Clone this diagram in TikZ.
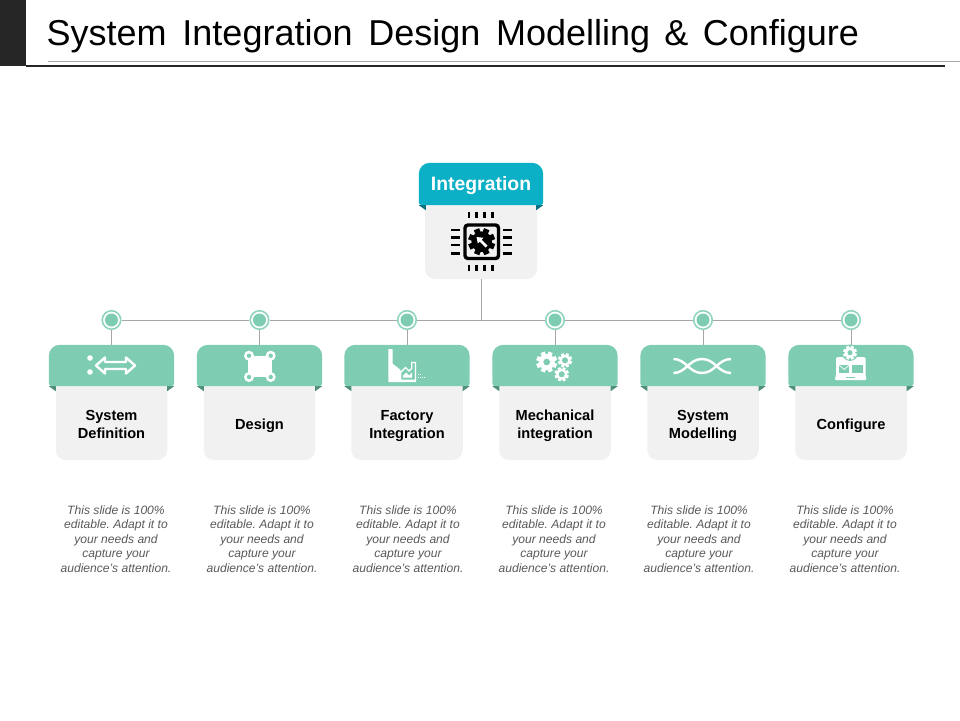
\documentclass[tikz,border=0pt]{standalone}
\usepackage{fontspec}
\setmainfont{Liberation Sans}
\frenchspacing
\definecolor{hdrgreen}{HTML}{7ECDB3}
\definecolor{foldgreen}{HTML}{4F8F7A}
\definecolor{hdrteal}{HTML}{0BB0C6}
\definecolor{foldteal}{HTML}{0A6F80}
\definecolor{bodygrey}{HTML}{F1F1F1}
\definecolor{linegrey}{HTML}{A6A6A6}
\definecolor{blockdark}{HTML}{262626}
\definecolor{descgrey}{HTML}{595959}
\tikzset{
  hdrbox/.style={minimum width=125pt, minimum height=41pt, inner sep=0pt},
  bodybox/.style={fill=bodygrey, rounded corners=10pt, minimum width=111.5pt, minimum height=84pt, inner sep=0pt},
  bodytext/.style={font=\fontsize{14.6}{18}\selectfont\bfseries, align=center, text=black, inner sep=0pt},
  desctext/.style={font=\fontsize{12.1}{14.6}\selectfont\itshape, align=center, text=descgrey, inner sep=0pt},
  dotouter/.style={circle, draw=hdrgreen!85, line width=1.6pt, fill=white, minimum size=18.5pt, inner sep=0pt},
  dotinner/.style={circle, fill=hdrgreen, minimum size=13pt, inner sep=0pt},
  wire/.style={draw=linegrey, line width=1pt}
}
% x, y, radius, colour, hole colour, hole size
\newcommand{\cogwheel}[6]{
  \foreach \tooth in {0,45,...,315}
    \draw[#4, line width=#3*.42pt] (#1,#2) ++(\tooth+22:#3*.6) -- ++(\tooth+22:#3*.4);
  \fill[#4] (#1,#2) circle (#3*.76);
  \fill[#5] (#1,#2) circle (#3*#6);
}
\newcommand{\foldpair}[2]{
  \fill[#2] (#1.south west) -- ++(7,0) -- ++(0,5) -- cycle;
  \fill[#2] (#1.south east) -- ++(-7,0) -- ++(0,5) -- cycle;
}
\newcommand{\hdrshape}[2]{
  \fill[#2] (#1.north) [rounded corners=11pt] -- (#1.north east) -- (#1.east) [rounded corners=3pt] -- (#1.south east) -- (#1.south west) -- (#1.west) [rounded corners=11pt] -- (#1.north west) -- cycle;
}
\begin{document}
\begin{tikzpicture}[x=1pt, y=-1pt]
  \useasboundingbox (0,0) rectangle (960,720);

  % Title bar
  \fill[blockdark] (0,0) rectangle (26,66);
  \fill[blockdark] (26,65) rectangle (945,67);
  \fill[linegrey] (48,60.8) rectangle (960,61.8);
  \node[anchor=base west, inner sep=0pt, font=\fontsize{36}{40}\selectfont] (title) at (46.5,45)
    {System\hspace{.16em} Integration\hspace{.16em} Design\hspace{.16em} Modelling\hspace{.12em} \&\hspace{.12em} Configure};

  % Top box
  \node[bodybox, minimum width=112pt] (intbody) at (481,237) {};
  \node[hdrbox, minimum width=124pt, minimum height=42pt] (inthdr) at (481,184) {};
  \foldpair{inthdr}{foldteal}
  \hdrshape{inthdr}{hdrteal}
  \node[text=white, font=\fontsize{19.4}{20}\selectfont\bfseries, inner sep=0pt] (inttext) at (481,185.5) {Integration};

  % Columns
  \foreach \i/\xc/\xd/\lbl in {
    1/111.5/116/{\strut System\\\strut Definition},
    2/259.5/262/{\strut Design},
    3/407/408/{\strut Factory\\\strut Integration},
    4/555/554/{\strut Mechanical\\\strut integration},
    5/703/699/{\strut System\\\strut Modelling},
    6/851/845/{\strut Configure}} {
    \node[dotouter] (dot\i) at (\xc,320) {};
    \node[dotinner] (core\i) at (\xc,320) {};
    \node[bodybox] (body\i) at (\xc,418) {};
    \node[hdrbox] (hdr\i) at (\xc,365.5) {};
    \foldpair{hdr\i}{foldgreen}
    \hdrshape{hdr\i}{hdrgreen}
    \node[bodytext] (name\i) at (\xc,426) {\lbl};
    \node[desctext] (desc\i) at (\xd,539) {This slide is 100\%\\editable. Adapt it to\\your needs and\\capture your\\audience's attention.};
    \draw[wire] (dot\i) -- (hdr\i.north);
  }

  % Wires
  \coordinate (joint) at (481,320);
  \draw[wire] (intbody.south) -- (joint);
  \foreach \i/\j in {1/2,2/3,3/4,4/5,5/6}
    \draw[wire] (dot\i) -- (dot\j);

  % Chip icon
  \draw[black, line width=3.4pt, rounded corners=3pt] (465,225) rectangle (498.5,258.5);
  \foreach \p in {469,476.7,484.3,492.7} {
    \draw[black, line width=2.8pt] (\p,211.7) -- (\p,218.3);
    \draw[black, line width=2.8pt] (\p,264.5) -- (\p,271);
  }
  \foreach \p in {230,237.7,245,253.3} {
    \draw[black, line width=2.8pt] (451,\p) -- (460,\p);
    \draw[black, line width=2.8pt] (503,\p) -- (512,\p);
  }
  \cogwheel{481.7}{241.7}{13.5}{black}{black}{.3}
  \fill[white] (476.5,237) -- (483.5,237.8) -- (481.7,239.8) -- (487.5,245.5) -- (485.5,247.5) -- (479.8,241.7) -- (477.8,243.5) -- cycle;

  % System definition icon
  \fill[white] (90,358) circle (2.8) (90,372) circle (2.8);
  \draw[white, line width=2.4pt, line join=round] (96,365.5) -- (105,357.5) -- (105,362) -- (126,362) -- (126,357.5) -- (135,365.5) -- (126,373.5) -- (126,369) -- (105,369) -- (105,373.5) -- cycle;

  % Design icon
  \fill[white] (248,355.5) rectangle (271.5,377);
  \foreach \a/\b in {249/355.7,270.7/355.7,249/377,270.7/377} {
    \fill[white] (\a,\b) circle (5);
    \fill[hdrgreen] (\a,\b) circle (2.2);
  }

  % Factory icon
  \fill[white] (388.3,349) -- (392.7,349) -- (392.7,363.7) -- (400.7,370) -- (400.7,379.5) -- (416,379.5) -- (416,382) -- (388.3,382) -- cycle;
  \draw[white, line width=1.3pt] (400.7,380) -- (400.7,372.5) -- (405.5,367.5) -- (409,371) -- (411.7,368.5) -- (411.7,362.5) -- (415.5,362.5) -- (415.5,380);
  \fill[white] (403,375.5) -- (406,372.5) -- (409,375.5) -- (412,372.5) -- (412,377.5) -- (403,377.5) -- cycle;
  \draw[white, line width=.9pt, dash pattern=on 1.2pt off .8pt] (418,377.5) -- (426,377.5);
  \draw[white, line width=.9pt, dash pattern=on 1.2pt off .8pt] (418,374) -- (421,374);

  % Mechanical icon
  \cogwheel{546.7}{362}{10.5}{white}{hdrgreen}{.32}
  \cogwheel{565}{360.3}{7.2}{white}{hdrgreen}{.42}
  \cogwheel{561.7}{374.3}{7.2}{white}{hdrgreen}{.42}

  % System modelling icon
  \draw[white, line width=2.4pt] (673.5,359) .. controls (686,359) and (689,373) .. (702,373) .. controls (715,373) and (718,359) .. (731,359);
  \draw[white, line width=2.4pt] (673.5,373) .. controls (686,373) and (689,359) .. (702,359) .. controls (715,359) and (718,373) .. (731,373);

  % Configure icon
  \fill[white, rounded corners=1.5pt] (836,357) -- (865.5,357) -- (865.5,376) -- (867,380) -- (834.3,380) -- (836,376) -- cycle;
  \fill[hdrgreen] (850,352.7) circle (8.2);
  \cogwheel{850}{352.7}{7}{white}{hdrgreen}{.36}
  \fill[hdrgreen] (839.3,365.3) rectangle (849,372.7);
  \fill[hdrgreen] (852.3,365.3) rectangle (863.3,372.7);
  \draw[white, line width=.7pt] (839.3,365.3) -- (844.2,369.5) -- (849,365.3);
  \draw[hdrgreen, line width=.7pt] (846,377.5) -- (855,377.5);
\end{tikzpicture}
\end{document}
